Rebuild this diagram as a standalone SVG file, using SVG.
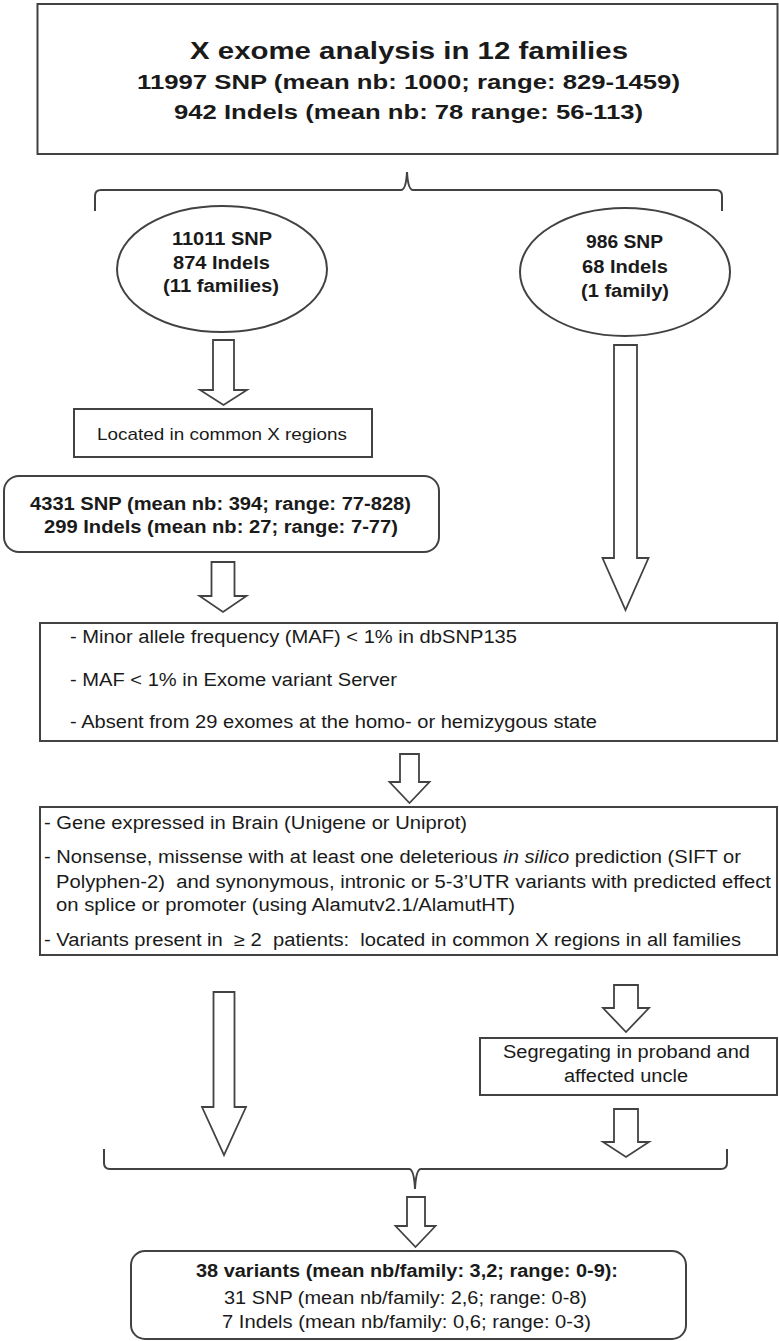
<svg xmlns="http://www.w3.org/2000/svg" width="779" height="1341" viewBox="0 0 779 1341">
<style>
  .box { fill: #ffffff; stroke: #424242; stroke-width: 2; }
  .arrow { fill: #ffffff; stroke: #424242; stroke-width: 1.8; stroke-linejoin: miter; }
  .brace { fill: none; stroke: #424242; stroke-width: 2; }
  text { font-family: "Liberation Sans", Arial, sans-serif; fill: #1a1a1a; white-space: pre; }
  .b { font-weight: bold; }
  .t23 { font-size: 23px; }
  .t20 { font-size: 20px; }
  .t18 { font-size: 18px; }
  .t17 { font-size: 17px; }
</style>
<rect width="779" height="1341" fill="#ffffff"/>

<g id="connectors">
  <path class="brace" d="M95,211 L95,196 Q95,190 101,190 L401,190 Q406,190 407,172 Q408,190 413,190 L716,190 Q722,190 722,196 L722,211"/>
  <path class="brace" d="M104,1149 L104,1163 Q104,1169 110,1169 L409,1169 Q414,1169 415,1189 Q416,1169 421,1169 L721,1169 Q727,1169 727,1163 L727,1149"/>
  <polygon class="arrow" points="213,340 234,340 234,390 247,390 223.5,405 200,390 213,390"/>
  <polygon class="arrow" points="614,345 637,345 637,558 648.5,558 625.5,610 602.5,558 614,558"/>
  <polygon class="arrow" points="211.5,562 234.5,562 234.5,596 246.5,596 223,612 199.5,596 211.5,596"/>
  <polygon class="arrow" points="400,754 419,754 419,782 429.5,782 409.5,803 389.5,782 400,782"/>
  <polygon class="arrow" points="213.5,992 234.5,992 234.5,1107 246,1107 224,1155 202,1107 213.5,1107"/>
  <polygon class="arrow" points="614,985 638,985 638,1008 649,1008 626,1032 603,1008 614,1008"/>
  <polygon class="arrow" points="614,1109 638,1109 638,1142 649,1142 626,1157 603,1142 614,1142"/>
  <polygon class="arrow" points="407,1197 425,1197 425,1226 435.5,1226 415.5,1247 395.5,1226 407,1226"/>
</g>

<g id="top-box">
  <rect class="box" x="37.5" y="4" width="740" height="150" stroke-width="2.5"/>
  <text class="b t23" x="190" y="59" textLength="438" lengthAdjust="spacingAndGlyphs">X exome analysis in 12 families</text>
  <text class="b t20" x="137" y="89" textLength="543" lengthAdjust="spacingAndGlyphs">11997 SNP (mean nb: 1000; range: 829-1459)</text>
  <text class="b t20" x="174" y="119" textLength="469" lengthAdjust="spacingAndGlyphs">942 Indels (mean nb: 78 range: 56-113)</text>
</g>

<g id="ellipse-left">
  <ellipse class="box" cx="222" cy="269" rx="105" ry="63"/>
  <text class="b t18" x="172" y="245" textLength="100" lengthAdjust="spacingAndGlyphs">11011 SNP</text>
  <text class="b t18" x="173" y="269" textLength="97" lengthAdjust="spacingAndGlyphs">874 Indels</text>
  <text class="b t18" x="163" y="292" textLength="116" lengthAdjust="spacingAndGlyphs">(11 families)</text>
</g>

<g id="ellipse-right">
  <ellipse class="box" cx="625" cy="272" rx="105" ry="64"/>
  <text class="b t18" x="586" y="248" textLength="77" lengthAdjust="spacingAndGlyphs">986 SNP</text>
  <text class="b t18" x="582" y="273" textLength="86" lengthAdjust="spacingAndGlyphs">68 Indels</text>
  <text class="b t18" x="581" y="297" textLength="88" lengthAdjust="spacingAndGlyphs">(1 family)</text>
</g>

<g id="located-box">
  <rect class="box" x="74" y="409" width="298" height="48"/>
  <text class="t17" x="97" y="440" textLength="250" lengthAdjust="spacingAndGlyphs">Located in common X regions</text>
</g>

<g id="snp-4331">
  <rect class="box" x="4" y="476" width="435" height="76" rx="15" ry="15"/>
  <text class="b t18" x="30" y="510" textLength="381" lengthAdjust="spacingAndGlyphs">4331 SNP (mean nb: 394; range: 77-828)</text>
  <text class="b t18" x="44" y="533" textLength="354" lengthAdjust="spacingAndGlyphs">299 Indels (mean nb: 27; range: 7-77)</text>
</g>

<g id="filter-maf">
  <rect class="box" x="40" y="623" width="737" height="118"/>
  <text class="t18" x="70" y="643" textLength="447" lengthAdjust="spacingAndGlyphs">- Minor allele frequency (MAF) &lt; 1% in dbSNP135</text>
  <text class="t18" x="70" y="686" textLength="327" lengthAdjust="spacingAndGlyphs">- MAF &lt; 1% in Exome variant Server</text>
  <text class="t18" x="70" y="728" textLength="527" lengthAdjust="spacingAndGlyphs">- Absent from 29 exomes at the homo- or hemizygous state</text>
</g>

<g id="filter-gene">
  <rect class="box" x="40" y="807" width="737" height="148"/>
  <text class="t18" x="44" y="829" textLength="423" lengthAdjust="spacingAndGlyphs">- Gene expressed in Brain (Unigene or Uniprot)</text>
  <text class="t18" x="44" y="863" textLength="697" lengthAdjust="spacingAndGlyphs">- Nonsense, missense with at least one deleterious <tspan font-style="italic">in silico</tspan> prediction (SIFT or</text>
  <text class="t18" x="56" y="888" textLength="715" lengthAdjust="spacingAndGlyphs">Polyphen-2)  and synonymous, intronic or 5-3’UTR variants with predicted effect</text>
  <text class="t18" x="56" y="911" textLength="459" lengthAdjust="spacingAndGlyphs">on splice or promoter (using Alamutv2.1/AlamutHT)</text>
  <text class="t18" x="44" y="946" textLength="697" lengthAdjust="spacingAndGlyphs">- Variants present in  ≥ 2  patients:  located in common X regions in all families</text>
</g>

<g id="segregating-box">
  <rect class="box" x="480" y="1038" width="297" height="57"/>
  <text class="t18" x="503" y="1058" textLength="247" lengthAdjust="spacingAndGlyphs">Segregating in proband and</text>
  <text class="t18" x="564" y="1082" textLength="124" lengthAdjust="spacingAndGlyphs">affected uncle</text>
</g>

<g id="result-box">
  <rect class="box" x="131" y="1251" width="555" height="88" rx="14" ry="14"/>
  <text class="b t18" x="196" y="1277" textLength="422" lengthAdjust="spacingAndGlyphs">38 variants (mean nb/family: 3,2; range: 0-9):</text>
  <text class="t18" x="224" y="1304" textLength="363" lengthAdjust="spacingAndGlyphs">31 SNP (mean nb/family: 2,6; range: 0-8)</text>
  <text class="t18" x="222" y="1328" textLength="369" lengthAdjust="spacingAndGlyphs">7 Indels (mean nb/family: 0,6; range: 0-3)</text>
</g>
</svg>
